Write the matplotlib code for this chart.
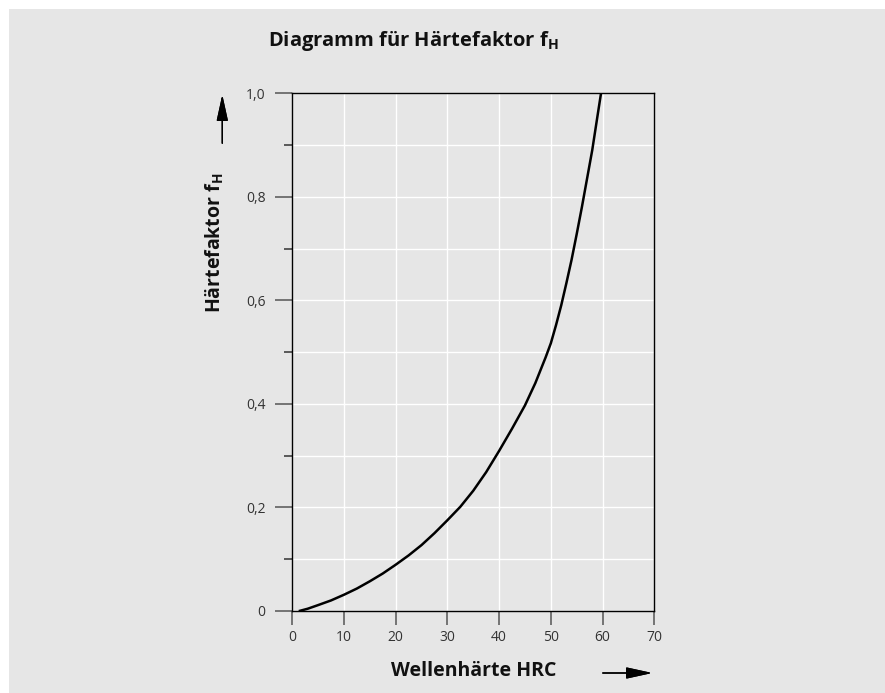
import matplotlib
matplotlib.use('Agg')
import matplotlib.pyplot as plt
from matplotlib.patches import Rectangle
from matplotlib.ticker import MultipleLocator

plt.rcParams['font.family'] = ['Open Sans', 'DejaVu Sans']
plt.rcParams['mathtext.fontset'] = 'custom'
plt.rcParams['mathtext.rm'] = 'Open Sans'
plt.rcParams['mathtext.bf'] = 'Open Sans:bold'

# values (Wellenhärte HRC -> Härtefaktor)
hrc = [1.5, 3, 5, 7.5, 10, 12.5, 15, 17.5, 20, 22.5, 25, 27.5, 30, 32.5, 35, 37.5,
       40, 42.5, 45, 47, 48, 49, 50, 51, 52, 53, 54, 55, 56, 57, 58, 59, 59.7]
fh = [0.0, 0.004, 0.011, 0.020, 0.031, 0.043, 0.057, 0.072, 0.089, 0.107, 0.127,
      0.150, 0.175, 0.201, 0.232, 0.268, 0.309, 0.352, 0.397, 0.440, 0.465, 0.490,
      0.517, 0.552, 0.590, 0.633, 0.678, 0.728, 0.780, 0.835, 0.890, 0.955, 1.0]

x_ticks = [0, 10, 20, 30, 40, 50, 60, 70]
y_ticks = [0, 0.2, 0.4, 0.6, 0.8, 1.0]
y_labels = ['0', '0,2', '0,4', '0,6', '0,8', '1,0']

bg = '#e6e6e6'
W, H = 885, 693

fig = plt.figure(figsize=(8.85, 6.93), dpi=100)
fig.patch.set_facecolor('white')
fig.patches.append(Rectangle((9 / W, 0), 1 - 9 / W, 1 - 9 / H, transform=fig.transFigure,
                             facecolor=bg, edgecolor='none', zorder=-10))

ax = fig.add_axes([292.2 / W, 82.2 / H, 362.1 / W, 517.5 / H])
ax.set_facecolor(bg)

ax.plot(hrc, fh, color='black', lw=1.8, zorder=3, solid_joinstyle='round')

ax.set_xlim(0, 70)
ax.set_ylim(0, 1.0)
ax.set_xticks(x_ticks)
ax.set_xticklabels([str(v) for v in x_ticks])
ax.set_yticks(y_ticks)
ax.set_yticklabels(y_labels)
ax.yaxis.set_minor_locator(MultipleLocator(0.1))

ax.grid(True, which='both', color='white', lw=1.0, zorder=0)
ax.set_axisbelow(True)

for s in ax.spines.values():
    s.set_color('black')
    s.set_linewidth(1.0)

ax.tick_params(axis='x', which='major', length=10, width=1.1, color='#555555',
               labelsize=10, labelcolor='#333333', pad=4)
ax.tick_params(axis='y', which='major', length=12.2, width=1.1, color='#555555',
               labelsize=10, labelcolor='#333333', pad=7)
ax.tick_params(axis='y', which='minor', length=5.8, width=1.1, color='#333333')

# texts
fig.text(413 / W, 1 - 46 / H, r'Diagramm für Härtefaktor f$_{\mathbf{H}}$',
         ha='center', va='baseline', fontsize=14.5, fontweight='bold', color='#111111')
fig.text(474 / W, 1 - 676 / H, 'Wellenhärte HRC', ha='center', va='baseline',
         fontsize=14, fontweight='bold', color='#111111')
fig.text(215 / W, 1 - 243 / H, r'Härtefaktor f$_{\mathbf{H}}$', ha='center', va='center',
         rotation=90, fontsize=14, fontweight='bold', color='#111111')

# arrows
fig.add_artist(plt.annotate('', xy=(655 / W, 1 - 673 / H), xytext=(600 / W, 1 - 673 / H),
                            xycoords='figure fraction', textcoords='figure fraction',
                            arrowprops=dict(arrowstyle='-|>,head_length=1.6,head_width=0.35',
                                            color='black', lw=1.0)))
fig.add_artist(plt.annotate('', xy=(222.3 / W, 1 - 92 / H), xytext=(222.3 / W, 1 - 146 / H),
                            xycoords='figure fraction', textcoords='figure fraction',
                            arrowprops=dict(arrowstyle='-|>,head_length=1.6,head_width=0.35',
                                            color='black', lw=1.0)))

plt.savefig('out.png', dpi=100, facecolor=fig.get_facecolor())
